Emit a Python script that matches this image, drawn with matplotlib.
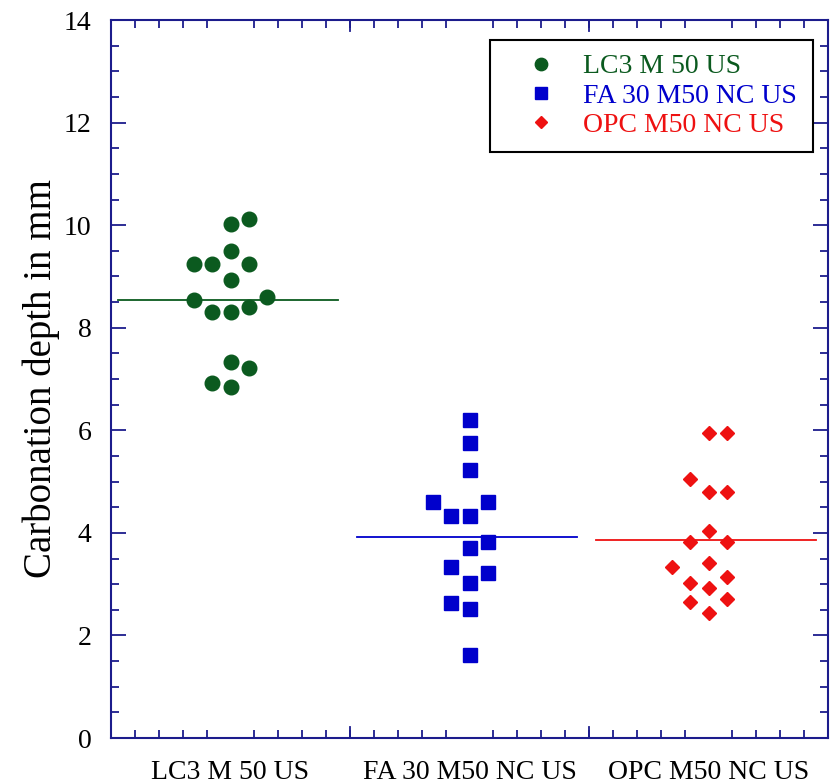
import matplotlib
matplotlib.use("Agg")
import matplotlib.pyplot as plt
from matplotlib.ticker import MultipleLocator, FixedLocator
import numpy as np

plt.rcParams['font.family'] = ['Liberation Serif', 'DejaVu Serif']

categories = ["LC3 M 50 US", "FA 30 M50 NC US", "OPC M50 NC US"]

lc3_values = [10.12, 10.02, 9.49, 9.24, 9.24, 9.24, 8.93, 8.54, 8.60,
              8.30, 8.30, 8.40, 7.33, 7.21, 6.92, 6.84]
fa_values = [6.20, 5.75, 5.22, 4.60, 4.60, 4.33, 4.33, 3.82, 3.70,
             3.33, 3.22, 3.02, 2.63, 2.51, 1.62]
opc_values = [5.95, 5.95, 5.05, 4.80, 4.80, 4.04, 3.82, 3.82, 3.41,
              3.33, 3.14, 3.02, 2.92, 2.71, 2.65, 2.44]

# swarm column slots (layout of the dot plot)
lc3_slots = [1, 0, 0, -2, -1, 1, 0, -2, 2, -1, 0, 1, 0, 1, -1, 0]
fa_slots = [0, 0, 0, -2, 1, -1, 0, 1, 0, -1, 1, 0, -1, 0, 0]
opc_slots = [0, 1, -1, 0, 1, 0, -1, 1, 0, -2, 1, -1, 0, 1, -1, 0]

colors = ['#0b5a1f', '#0000cc', '#ee1111']
markers = ['o', 's', 'D']
msizes = [10.5, 10.0, 7.0]
spine_col = '#1c1c8c'

fig = plt.figure(figsize=(8.32, 7.84), dpi=100)
ax = fig.add_axes([111/832, 1-738/784, 717/832, 718/784])

groups = [lc3_values, fa_values, opc_values]
slots = [lc3_slots, fa_slots, opc_slots]
spacing = 0.077
handles = []
for i, (vals, sl) in enumerate(zip(groups, slots)):
    center = i + 0.5
    xs = center + spacing * np.array(sl)
    h, = ax.plot(xs, vals, linestyle='none', marker=markers[i], ms=msizes[i],
                 color=colors[i], mec=colors[i], label=categories[i], zorder=3)
    handles.append(h)
    m = np.mean(vals)
    ax.plot([center - 0.47, center + 0.45], [m, m], color=colors[i], lw=1.3, zorder=2)

ax.set_xlim(0, 3)
ax.set_ylim(0, 14)

ax.xaxis.set_major_locator(FixedLocator([0.5, 1.5, 2.5]))
ax.set_xticklabels(categories, fontsize=20)
ax.xaxis.set_minor_locator(FixedLocator(np.round(np.arange(0, 3.01, 0.1), 2)))
ax.yaxis.set_major_locator(MultipleLocator(2))
ax.yaxis.set_minor_locator(MultipleLocator(0.5))
ax.tick_params(axis='y', labelsize=20)

ax.tick_params(axis='x', which='major', length=0, pad=16)
ax.tick_params(axis='x', which='minor', length=6, width=1.3, direction='in',
               top=True, bottom=True, color=spine_col)
ax.tick_params(axis='y', which='major', length=11, width=1.3, direction='in',
               left=True, right=True, color=spine_col, pad=14)
ax.tick_params(axis='y', which='minor', length=6, width=1.3, direction='in',
               left=True, right=True, color=spine_col)

# major vertical ticks at section boundaries
for xb in [1, 2]:
    ax.plot([xb, xb], [0, 0.22], color=spine_col, lw=1.3, clip_on=False, zorder=4)
    ax.plot([xb, xb], [14, 14 - 0.22], color=spine_col, lw=1.3, clip_on=False, zorder=4)

for s in ax.spines.values():
    s.set_color(spine_col)
    s.set_linewidth(1.5)

ax.set_ylabel("Carbonation depth in mm", fontsize=28, labelpad=3)

leg = ax.legend(handles=handles, loc='upper right',
                bbox_to_anchor=(0.5286, 0.0, 0.4504, 0.972), mode='expand',
                borderaxespad=0, fontsize=20, frameon=True, fancybox=False,
                edgecolor='black', framealpha=1, labelspacing=0.14,
                handlelength=2.65, handletextpad=0.2, borderpad=0.5,
                markerscale=0.85)
leg.get_frame().set_linewidth(1.5)
for t, c in zip(leg.get_texts(), colors):
    t.set_color(c)

fig.savefig("out.png", dpi=100)
